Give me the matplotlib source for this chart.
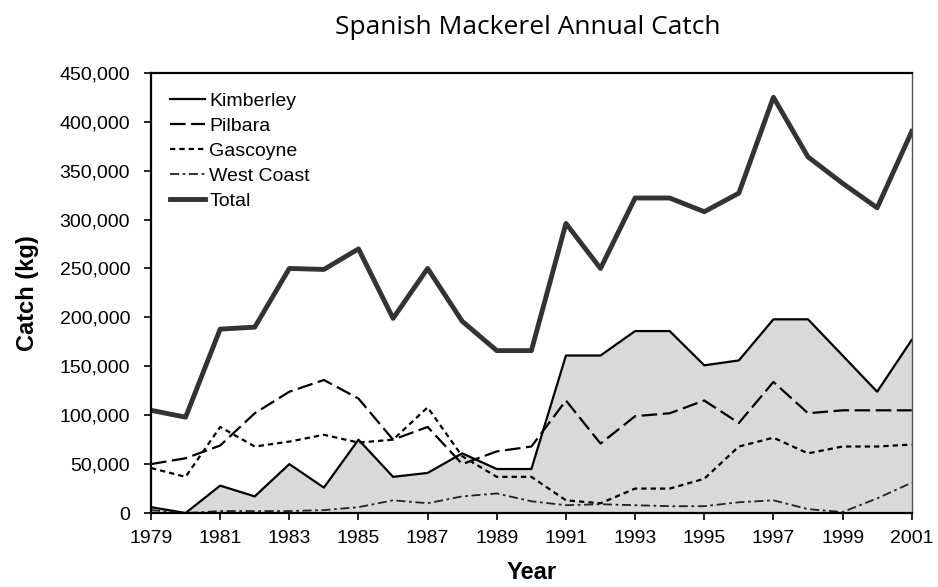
import matplotlib
matplotlib.use("Agg")
import matplotlib.pyplot as plt
from matplotlib.ticker import FuncFormatter

# data (kg)
years = list(range(1979, 2002))
kimberley = [6000, 0, 28000, 17000, 50000, 26000, 75000, 37000, 41000, 61000, 45000, 45000,
             161000, 161000, 186000, 186000, 151000, 156000, 198000, 198000, 161000, 124000, 177000]
pilbara = [50000, 56000, 69000, 102000, 124000, 136000, 117000, 75000, 88000, 50000, 63000, 68000,
           115000, 71000, 99000, 102000, 115000, 92000, 134000, 102000, 105000, 105000, 105000]
gascoyne = [46000, 37000, 88000, 68000, 73000, 80000, 72000, 75000, 108000, 58000, 37000, 37000,
            13000, 10000, 25000, 25000, 35000, 68000, 77000, 61000, 68000, 68000, 70000]
west_coast = [3000, 0, 2000, 2000, 2000, 3000, 6000, 13000, 10000, 17000, 20000, 12000,
              8000, 9000, 8000, 7000, 7000, 11000, 13000, 4000, 1000, 15000, 31000]
total = [105000, 98000, 188000, 190000, 250000, 249000, 270000, 199000, 250000, 196000, 166000, 166000,
         296000, 250000, 322000, 322000, 308000, 327000, 425000, 364000, 337000, 312000, 390000]

FONT = "Liberation Sans"

fig = plt.figure(figsize=(9.38, 5.87), dpi=100)
ax = fig.add_axes([0.161, 0.126, 0.811, 0.750])

ax.fill_between(years, 0, kimberley, color="#d9d9d9", linewidth=0)
ax.plot(years, kimberley, color="black", lw=1.6, label="Kimberley")
ax.plot(years, pilbara, color="black", lw=1.6, dashes=(7, 2.5), label="Pilbara")
ax.plot(years, gascoyne, color="black", lw=1.6, dashes=(2.4, 1.8), label="Gascoyne")
ax.plot(years, west_coast, color="#222222", lw=1.3, dashes=(5, 2, 1.5, 2), label="West Coast")
ax.plot(years, total, color="#333333", lw=3.5, label="Total")

ax.set_xlim(1979, 2001)
ax.set_ylim(0, 450000)
ax.set_xticks(range(1979, 2002, 2))
ax.set_yticks(range(0, 450001, 50000))
ax.yaxis.set_major_formatter(FuncFormatter(lambda v, p: f"{int(v):,}"))
ax.tick_params(direction="out", length=5, width=1.2, labelsize=14)
ax.tick_params(axis="x", pad=7)
ax.tick_params(axis="y", pad=10)
for lbl in ax.get_xticklabels() + ax.get_yticklabels():
    lbl.set_family(FONT)

for side in ["left", "bottom", "top"]:
    ax.spines[side].set_linewidth(1.6)
ax.spines["right"].set_linewidth(1.0)
ax.spines["right"].set_color("#555555")

ax.set_xlabel("Year", fontsize=17, fontweight="bold", family=FONT, labelpad=10)
ax.set_ylabel("Catch (kg)", fontsize=17, fontweight="bold", family=FONT, labelpad=15)

ax.legend(loc="upper left", frameon=False, handlelength=1.8,
          handletextpad=0.2, labelspacing=0.38, borderaxespad=0.6,
          prop={"family": FONT, "size": 14})

fig.text(0.563, 0.954, "Spanish Mackerel Annual Catch", ha="center", va="center",
         fontsize=19, family="Open Sans")

fig.savefig("out.png", dpi=100)
